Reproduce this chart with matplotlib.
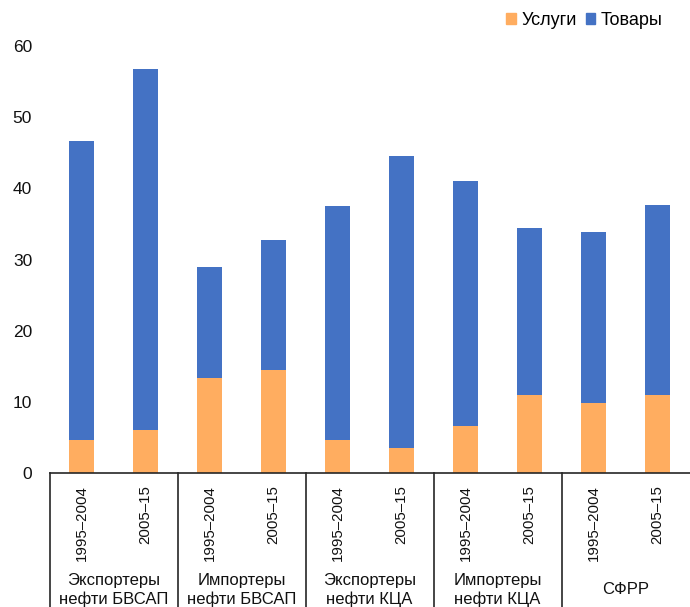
import matplotlib
matplotlib.use("Agg")
import matplotlib.pyplot as plt
from matplotlib.patches import Patch
import matplotlib.transforms as mtransforms

plt.rcParams['font.family'] = ['Liberation Sans', 'DejaVu Sans']
plt.rcParams['font.size'] = 10.5

# Data
periods = ['1995–2004', '2005–15'] * 5
groups = ['Экспортеры\nнефти БВСАП', 'Импортеры\nнефти БВСАП',
          'Экспортеры\nнефти КЦА', 'Импортеры\nнефти КЦА', 'СФРР']
services = [4.6, 6.0, 13.4, 14.5, 4.7, 3.5, 6.6, 11.0, 9.9, 11.0]
totals = [46.6, 56.8, 28.9, 32.8, 37.5, 44.6, 41.0, 34.4, 33.9, 37.7]
goods = [t - s for t, s in zip(totals, services)]

ORANGE = '#FFAD60'
BLUE = '#4472C4'
LINE = '#262626'

W, H = 690, 607
fig = plt.figure(figsize=(W / 100, H / 100), dpi=100)
ax = fig.add_axes([49.5 / W, (H - 473) / H, 640 / W, (473 - 46) / H])

x = list(range(len(periods)))
ax.bar(x, services, width=0.39, color=ORANGE, label='Услуги')
ax.bar(x, goods, width=0.39, bottom=services, color=BLUE, label='Товары')

ax.set_xlim(-0.5, len(periods) - 0.5)
ax.set_ylim(0, 60)
ax.set_yticks(range(0, 61, 10))

for side in ['left', 'right', 'top']:
    ax.spines[side].set_visible(False)
ax.spines['bottom'].set_color(LINE)
ax.spines['bottom'].set_linewidth(1.2)

ax.tick_params(axis='y', length=0, pad=12.5, labelsize=12.5, colors='#111111')
ax.set_xticks(x)
ax.set_xticklabels(periods, rotation=90, va='top', ha='center')
ax.tick_params(axis='x', length=0, pad=8.5, labelsize=10.8, colors='#111111')

# Group separators and labels below the axis
trans = mtransforms.blended_transform_factory(ax.transData, ax.transAxes)
for b in [-0.5, 1.5, 3.5, 5.5, 7.5]:
    ax.plot([b, b], [0, -0.35], color=LINE, lw=1.2, transform=trans, clip_on=False)

for i, g in enumerate(groups):
    ax.text(2 * i + 0.5, (473 - 590) / 427, g, transform=trans, ha='center',
            va='center', fontsize=12, linespacing=1.25, color='#111111')

handles = [Patch(color=ORANGE, label='Услуги'), Patch(color=BLUE, label='Товары')]
fig.legend(handles=handles, loc='upper right', bbox_to_anchor=(679 / W, 1 + 4 / H),
           ncol=2, frameon=False, handlelength=0.55, handleheight=0.55,
           handletextpad=0.3, columnspacing=0.5, fontsize=13)

fig.savefig('out.png', dpi=100)
